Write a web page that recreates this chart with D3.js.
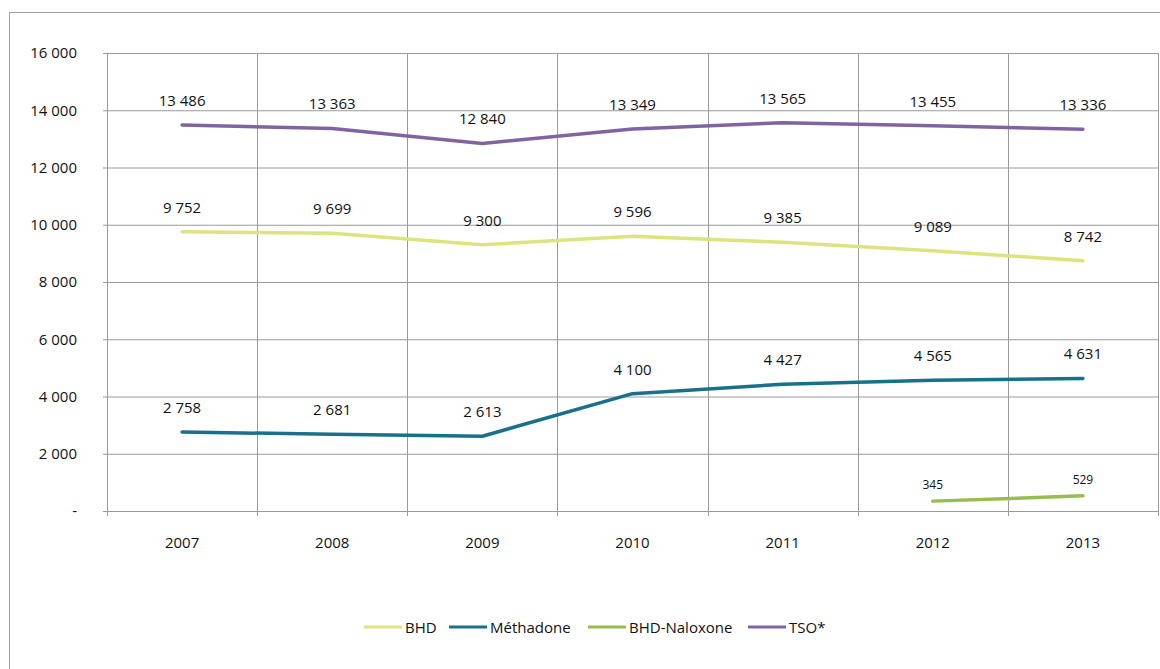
<!DOCTYPE html>
<html><head><meta charset="utf-8">
<script src="https://cdn.jsdelivr.net/npm/d3@7"></script>
<style>body{margin:0;background:#fff}svg{display:block;font-family:"Open Sans","Noto Sans",sans-serif}</style>
</head><body>
<svg id="c" width="1160" height="669"></svg>
<script>
const years = ["2007","2008","2009","2010","2011","2012","2013"];
const bhd = [9752, 9699, 9300, 9596, 9385, 9089, 8742];
const methadone = [2758, 2681, 2613, 4100, 4427, 4565, 4631];
const naloxone = [null, null, null, null, null, 345, 529];
const tso = [13486, 13363, 12840, 13349, 13565, 13455, 13336];
const seriesNames = ["BHD", "Méthadone", "BHD-Naloxone", "TSO*"];
const yTicks = [0, 2000, 4000, 6000, 8000, 10000, 12000, 14000, 16000];

const series = [
  {name: seriesNames[0], values: bhd, color: "#dbe47f", small: false},
  {name: seriesNames[1], values: methadone, color: "#19708a", small: false},
  {name: seriesNames[2], values: naloxone, color: "#98bd4f", small: true},
  {name: seriesNames[3], values: tso, color: "#8064a2", small: false}
];

const svg = d3.select("#c");
const L = 107, R = 1158, T = 53, B = 511;
const x = d3.scaleBand().domain(years).range([L, R]);
const y = d3.scaleLinear().domain([0, 16000]).range([B, T]);
const fmt = v => d3.format(",")(v).replace(/,/g, " ");

// outer frame
svg.append("rect").attr("x", 9.5).attr("y", 12.5).attr("width", 1160).attr("height", 700)
  .attr("fill", "none").attr("stroke", "#a0a0a0").attr("stroke-width", 1);

// horizontal grid
const gy = svg.append("g").attr("transform", `translate(${L},0)`)
  .call(d3.axisLeft(y).tickValues(yTicks).tickSize(-(R - L)).tickPadding(30)
    .tickFormat(v => v === 0 ? "-" : fmt(v)));
gy.select(".domain").remove();
gy.selectAll(".tick line").attr("stroke", "#9a9a9a").attr("x1", -4);
gy.selectAll(".tick text").attr("font-size", 15).attr("fill", "#111")
  .attr("font-family", "'Open Sans',sans-serif");

// vertical grid lines at band boundaries
const bounds = years.map(d => x(d)).concat([R]);
svg.append("g").selectAll("line").data(bounds).join("line")
  .attr("x1", d => Math.round(d) + 0.5).attr("x2", d => Math.round(d) + 0.5)
  .attr("y1", T).attr("y2", B + 5).attr("stroke", "#9a9a9a");

// x axis labels
const gx = svg.append("g").attr("transform", `translate(0,${B})`)
  .call(d3.axisBottom(x).tickSize(0).tickPadding(26));
gx.select(".domain").remove();
gx.selectAll(".tick text").attr("font-size", 15).attr("fill", "#111")
  .attr("font-family", "'Open Sans',sans-serif");

const cx = d => x(d) + x.bandwidth() / 2;
const line = d3.line().defined(d => d.v != null).x(d => cx(d.year)).y(d => y(d.v));

series.forEach(s => {
  const pts = years.map((yr, i) => ({year: yr, v: s.values[i]}));
  svg.append("path").datum(pts).attr("d", line).attr("fill", "none")
    .attr("stroke", s.color).attr("stroke-width", 3.5).attr("stroke-linecap", "round")
    .attr("stroke-linejoin", "round");
  svg.append("g").selectAll("text").data(pts.filter(d => d.v != null)).join("text")
    .attr("x", d => cx(d.year)).attr("y", d => y(d.v) - (s.small ? 12 : 19))
    .attr("text-anchor", "middle").attr("font-size", s.small ? 12 : 15).attr("fill", "#111")
    .text(d => fmt(d.v));
});

// legend
const legendX = [364, 449, 588, 748];
const lg = svg.append("g");
series.forEach((s, i) => {
  const g = lg.append("g").attr("transform", `translate(${legendX[i]},627)`);
  g.append("line").attr("x1", 0).attr("x2", 38).attr("stroke", s.color).attr("stroke-width", 3);
  g.append("text").attr("x", 41).attr("y", 5.5).attr("font-size", 15).attr("fill", "#111")
    .text(s.name);
});
</script>
</body></html>
